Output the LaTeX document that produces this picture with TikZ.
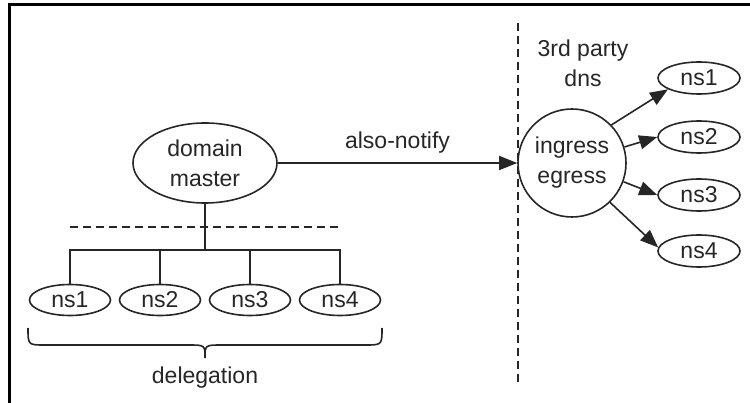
\documentclass[tikz,border=0pt]{standalone}
\usepackage{fontspec}
\setmainfont{Liberation Sans}
\usetikzlibrary{shapes.geometric,arrows.meta}
\begin{document}
\begin{tikzpicture}[x=1pt,y=-1pt,
  txt/.style={font=\fontsize{23}{30}\selectfont, text=black!85, align=center, inner sep=0pt},
  oval/.style={ellipse, draw=black!85, line width=1.6pt, inner sep=0pt, txt},
  nsov/.style={oval, minimum width=81pt, minimum height=31pt},
  conn/.style={draw=black!85, line width=1.6pt},
  arr/.style={conn, -{Triangle[length=18pt,width=14pt]}},
  dsh/.style={draw=black!85, line width=1.4pt, dash pattern=on 8pt off 5pt}]
\useasboundingbox (0,0) rectangle (750,403);
% frame
\draw[line width=3pt] (750,4.5) -- (9.5,4.5) -- (9.5,403);
% left part
\node[oval, minimum width=144pt, minimum height=80pt] (dm) at (205,163) {domain\\master};
\node[nsov] (a1) at (70,300) {ns1};
\node[nsov] (a2) at (160,300) {ns2};
\node[nsov] (a3) at (250,300) {ns3};
\node[nsov] (a4) at (340,300) {ns4};
\coordinate (bus) at (205,250);
\coordinate (dl) at (70,227);
\coordinate (dr) at (340,227);
\draw[dsh] (dl) -- (dr);
\draw[conn] (dm.south) -- (bus);
\draw[conn] (a1.north) -- (a1.north |- bus) -- (a4.north |- bus) -- (a4.north);
\draw[conn] (a2.north) -- (a2.north |- bus);
\draw[conn] (a3.north) -- (a3.north |- bus);
% brace
\draw[conn] (28,328) .. controls (28,345) .. (45,345) -- (188,345) .. controls (205,345) .. (205,358)
  .. controls (205,345) .. (222,345) -- (365,345) .. controls (382,345) .. (382,328);
\node[txt] (deleg) at (205,378) {delegation};
% divider
\coordinate (vt) at (518,23);
\coordinate (vb) at (518,386);
\draw[dsh] (vt) -- (vb);
% right part
\node[txt] (third) at (583,63) {3rd party\\dns};
\node[circle, draw=black!85, line width=1.6pt, minimum size=108pt, inner sep=0pt, txt] (ing) at (572,163) {ingress\\egress};
\node[nsov, minimum width=82pt, minimum height=32pt] (b1) at (699,78) {ns1};
\node[nsov, minimum width=82pt, minimum height=32pt] (b2) at (699,137) {ns2};
\node[nsov, minimum width=82pt, minimum height=32pt] (b3) at (699,195) {ns3};
\node[nsov, minimum width=82pt, minimum height=32pt] (b4) at (699,251) {ns4};
\draw[arr] (dm.east) -- node[txt, above=9pt] (an) {also-notify} (ing.west);
\draw[arr] (ing.44) -- (b1.200);
\draw[arr] (ing.17) -- (b2.west);
\draw[arr] (ing.-20) -- (b3.west);
\draw[arr] (ing.-46) -- (b4.175);
\end{tikzpicture}
\end{document}
